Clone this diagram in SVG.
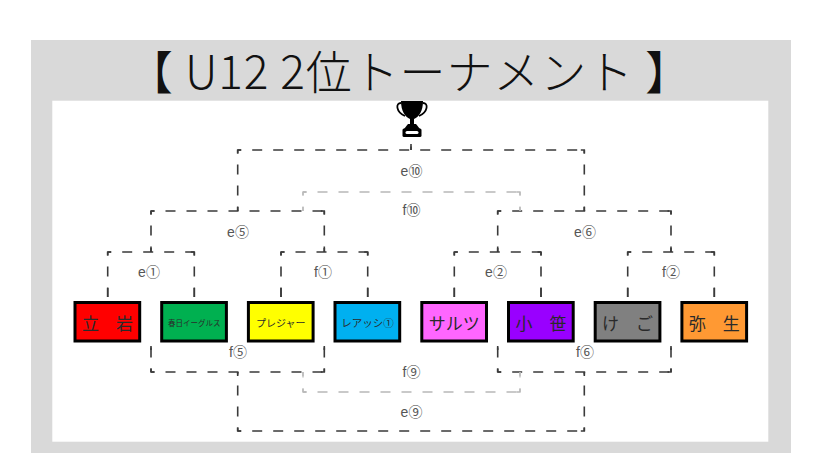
<svg xmlns="http://www.w3.org/2000/svg" width="824" height="453" viewBox="0 0 824 453">
<style>
.d{fill:none;stroke:#3a3a3a;stroke-width:1.6;stroke-dasharray:10 11;stroke-dashoffset:6.5}
.s{fill:none;stroke:#3a3a3a;stroke-width:1.6}
.gd{fill:none;stroke:#b8b8b8;stroke-width:1.3;stroke-dasharray:10 11;stroke-dashoffset:6.5}
.gs{fill:none;stroke:#b8b8b8;stroke-width:1.3}
.lbl{font-family:"Liberation Sans","Noto Sans CJK JP",sans-serif;font-size:14px;fill:#555;text-anchor:middle}
.box{stroke:#000;stroke-width:3}
.t{font-family:"Noto Sans CJK JP",sans-serif;fill:#2a2a2a;text-anchor:middle;dominant-baseline:central}
</style>
<rect x="31" y="40" width="760" height="420" fill="#d9d9d9"/>
<rect x="52.3" y="100.7" width="716" height="341" fill="#fff"/>
<text x="127" y="89" textLength="564" lengthAdjust="spacing" font-family="'Noto Sans CJK JP',sans-serif" font-weight="300" font-size="46" fill="#111">【 U12 2位トーナメント 】</text>
<g id="trophy">
<path d="M401,101 H423 C423,111 419,117 414,119 H410 C405,117 401,111 401,101 Z" fill="#000"/>
<path d="M401.5,103 C395,102.5 396,112 405,116 M422.5,103 C429,102.5 428,112 419,116" fill="none" stroke="#000" stroke-width="1.8"/>
<rect x="410" y="118" width="4" height="7" fill="#000"/>
<path d="M408,124 H416 L420,129 H404 Z" fill="#000"/>
<rect x="402.5" y="128.5" width="19" height="8.5" rx="1.5" fill="#000"/>
<rect x="405.5" y="131" width="13" height="3" rx="1.5" fill="#fff"/>
</g>
<g id="connectors">
<path class="d" d="M237.7,150 H584.3 M237.7,150 V211 M584.3,150 V211 M411,150 V140"/>
<path class="s" d="M241.2,150 H237.7 V153.5 M580.8,150 H584.3 V153.5 M237.7,207 V211 M584.3,207 V211 M411,150 V144"/>
<path class="d" d="M151,211 H324.3 M151,211 V252 M324.3,211 V252"/>
<path class="s" d="M154.5,211 H151 V214.5 M320.8,211 H324.3 V214.5 M151,248 V252 M324.3,248 V252"/>
<path class="d" d="M497.7,211 H671 M497.7,211 V252 M671,211 V252"/>
<path class="s" d="M501.2,211 H497.7 V214.5 M667.5,211 H671 V214.5 M497.7,248 V252 M671,248 V252"/>
<path class="d" d="M107.7,252 H194.3 M107.7,252 V297 M194.3,252 V297"/>
<path class="s" d="M111.2,252 H107.7 V255.5 M190.8,252 H194.3 V255.5 M107.7,288 V297 M194.3,288 V297"/>
<path class="d" d="M281,252 H367.7 M281,252 V297 M367.7,252 V297"/>
<path class="s" d="M284.5,252 H281 V255.5 M364.2,252 H367.7 V255.5 M281,288 V297 M367.7,288 V297"/>
<path class="d" d="M454.3,252 H541 M454.3,252 V297 M541,252 V297"/>
<path class="s" d="M457.8,252 H454.3 V255.5 M537.5,252 H541 V255.5 M454.3,288 V297 M541,288 V297"/>
<path class="d" d="M627.7,252 H714.3 M627.7,252 V297 M714.3,252 V297"/>
<path class="s" d="M631.2,252 H627.7 V255.5 M710.8,252 H714.3 V255.5 M627.7,288 V297 M714.3,288 V297"/>
<path class="gd" d="M303,192 H520 M303,192 V211 M520,192 V211"/>
<path class="gs" d="M306.5,192 H303 V195.5 M516.5,192 H520 V195.5 M303,207 V211 M520,207 V211"/>
<path class="d" d="M151,372 H324.3 M151,372 V346 M324.3,372 V346"/>
<path class="s" d="M154.5,372 H151 V368.5 M320.8,372 H324.3 V368.5 M151,346 V350 M324.3,346 V350"/>
<path class="d" d="M497.7,372 H671 M497.7,372 V346 M671,372 V346"/>
<path class="s" d="M501.2,372 H497.7 V368.5 M667.5,372 H671 V368.5 M497.7,346 V350 M671,346 V350"/>
<path class="d" d="M237.7,431 H584.3 M237.7,431 V372 M584.3,431 V372"/>
<path class="s" d="M241.2,431 H237.7 V427.5 M580.8,431 H584.3 V427.5 M237.7,372 V376 M584.3,372 V376"/>
<path class="gd" d="M303,392 H520 M303,392 V372 M520,392 V372"/>
<path class="gs" d="M306.5,392 H303 V388.5 M516.5,392 H520 V388.5 M303,372 V376 M520,372 V376"/>
</g>
<g id="labels">
<text class="lbl" x="411.5" y="175.5">e⑩</text>
<text class="lbl" x="411.5" y="215">f⑩</text>
<text class="lbl" x="238" y="237">e⑤</text>
<text class="lbl" x="585" y="237">e⑥</text>
<text class="lbl" x="149" y="277">e①</text>
<text class="lbl" x="323" y="277">f①</text>
<text class="lbl" x="496" y="277">e②</text>
<text class="lbl" x="671" y="277">f②</text>
<text class="lbl" x="238" y="357">f⑤</text>
<text class="lbl" x="585" y="357">f⑥</text>
<text class="lbl" x="411.5" y="377">f⑨</text>
<text class="lbl" x="411.5" y="417">e⑨</text>
</g>
<g id="team-tateiwa"><rect class="box" x="75" y="302.5" width="64.7" height="38.5" fill="#ff0000"/><text class="t" x="107.5" y="322" font-size="17">立　岩</text></g>
<g id="team-kasuga"><rect class="box" x="161.7" y="302.5" width="64.7" height="38.5" fill="#00b050"/><text class="t" x="194.2" y="322" font-size="7.5">春日イーグルス</text></g>
<g id="team-pleasure"><rect class="box" x="248.4" y="302.5" width="64.7" height="38.5" fill="#ffff00"/><text class="t" x="280.8" y="322" font-size="10">プレジャー</text></g>
<g id="team-reassi"><rect class="box" x="335" y="302.5" width="64.7" height="38.5" fill="#00b0f0"/><text class="t" x="367.5" y="322" font-size="10.5">レアッシ①</text></g>
<g id="team-saruts"><rect class="box" x="421.8" y="302.5" width="64.7" height="38.5" fill="#ff66ff"/><text class="t" x="454.2" y="322" font-size="17">サルツ</text></g>
<g id="team-ozasa"><rect class="box" x="508.5" y="302.5" width="64.7" height="38.5" fill="#9900ff"/><text class="t" x="540.9" y="322" font-size="17">小　笹</text></g>
<g id="team-kego"><rect class="box" x="595.2" y="302.5" width="64.7" height="38.5" fill="#808080"/><text class="t" x="627.6" y="322" font-size="17">け　ご</text></g>
<g id="team-yayoi"><rect class="box" x="681.9" y="302.5" width="64.7" height="38.5" fill="#ff9933"/><text class="t" x="714.3" y="322" font-size="17">弥　生</text></g>
</svg>
